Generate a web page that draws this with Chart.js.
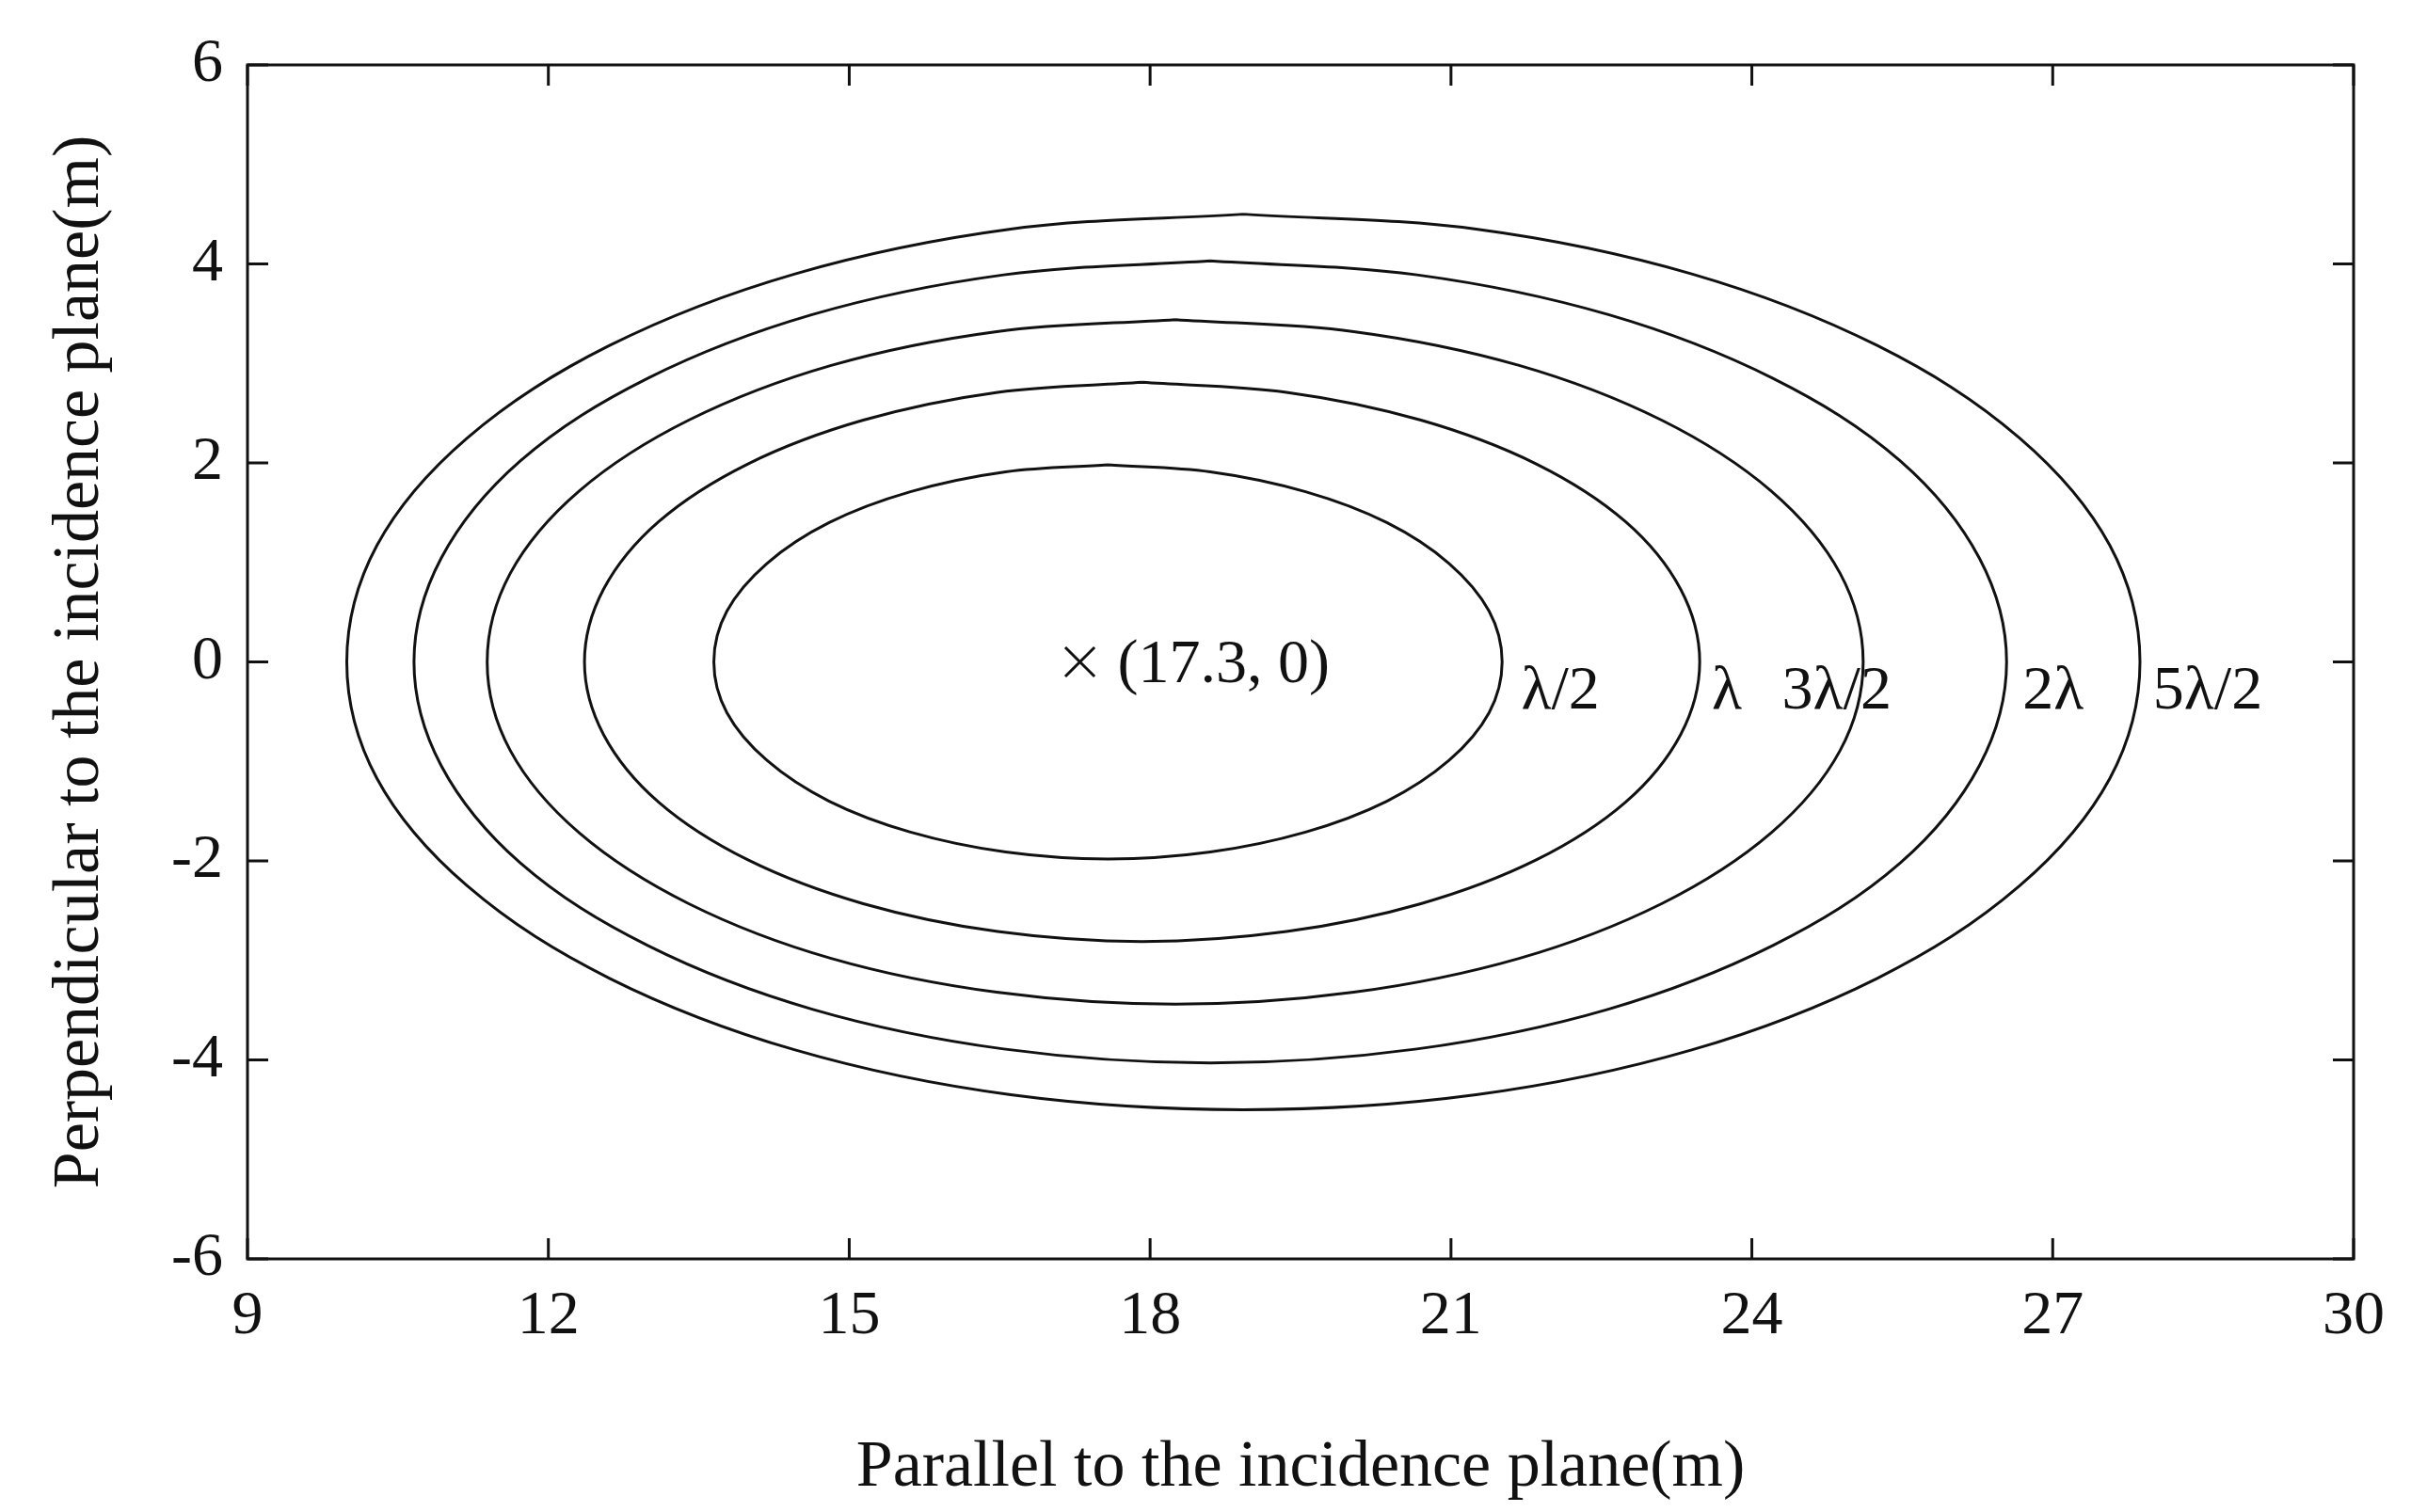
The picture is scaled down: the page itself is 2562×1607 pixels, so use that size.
<!DOCTYPE html>
<html lang="en">
<head>
<meta charset="UTF-8">
<title>Contours</title>
<script src="https://cdn.jsdelivr.net/npm/chart.js"></script>
<style>
  html, body { margin: 0; padding: 0; background: #fff; }
  #wrap { width: 2562px; height: 1607px; }
</style>
</head>
<body>
<div id="wrap"><canvas id="contourChart"></canvas></div>
<script>
// contour points (upper half, right to left); lower half mirrored
var halfHalf = [[21.51,0],[21.38,0.51],[20.98,0.99],[20.36,1.40],[19.55,1.71],[18.60,1.91],[17.58,1.98],[16.56,1.91],[15.61,1.71],[14.80,1.40],[14.18,0.99],[13.78,0.51],[13.65,0]];
var halfOne = [[23.48,0],[23.29,0.73],[22.74,1.41],[21.85,1.99],[20.70,2.43],[19.36,2.71],[17.92,2.81],[16.48,2.71],[15.14,2.43],[13.99,1.99],[13.10,1.41],[12.55,0.73],[12.36,0]];
var halfThreeHalves = [[25.11,0],[24.88,0.89],[24.19,1.72],[23.10,2.43],[21.68,2.98],[20.03,3.32],[18.25,3.44],[16.47,3.32],[14.82,2.98],[13.40,2.43],[12.31,1.72],[11.62,0.89],[11.39,0]];
var halfTwo = [[26.54,0],[26.27,1.04],[25.48,2.02],[24.21,2.85],[22.57,3.49],[20.66,3.89],[18.60,4.03],[16.54,3.89],[14.63,3.49],[12.99,2.85],[11.72,2.02],[10.93,1.04],[10.66,0]];
var halfFiveHalves = [[27.87,0],[27.57,1.17],[26.67,2.25],[25.25,3.18],[23.40,3.90],[21.25,4.35],[18.93,4.50],[16.61,4.35],[14.46,3.90],[12.61,3.18],[11.19,2.25],[10.29,1.17],[9.99,0]];

var contourLabels = ['\u03bb/2', '\u03bb', '3\u03bb/2', '2\u03bb', '5\u03bb/2'];
var labelX = [21.7, 23.6, 24.3, 26.7, 28.0];
var labelY = [-0.3, -0.3, -0.3, -0.3, -0.3];
var focus = [17.3, 0];
var xTicks = [9, 12, 15, 18, 21, 24, 27, 30];
var yTicks = [-6, -4, -2, 0, 2, 4, 6];

// build a closed loop starting at the top point so the seam sits on a flat part
function closed(half) {
    var loop = half.map(function (p) { return { x: p[0], y: p[1] }; });
    for (var i = half.length - 2; i >= 1; i--) loop.push({ x: half[i][0], y: -half[i][1] });
    var top = 6;
    var pts = loop.slice(top).concat(loop.slice(0, top));
    pts.push(pts[0]);
    return pts;
}

var serif = '"Liberation Serif", "DejaVu Serif", serif';
var contours = [halfHalf, halfOne, halfThreeHalves, halfTwo, halfFiveHalves];
var datasets = contours.map(function (h, i) {
    return {
        label: contourLabels[i],
        data: closed(h),
        showLine: true,
        borderColor: '#111',
        borderWidth: 3,
        pointRadius: 0,
        tension: 0.35,
        fill: false
    };
});
datasets.push({
    label: 'focus',
    data: [{ x: focus[0], y: focus[1] }],
    pointStyle: 'crossRot',
    pointRadius: 22,
    borderColor: '#111',
    borderWidth: 3,
    showLine: false
});

var textPlugin = {
    id: 'texts',
    afterDraw: function (chart) {
        var c = chart.ctx, xs = chart.scales.x, ys = chart.scales.y, a = chart.chartArea;
        c.save();
        c.fillStyle = '#111';
        c.font = '66px ' + serif;
        c.textBaseline = 'middle';
        c.textAlign = 'left';
        c.fillText('(17.3, 0)', xs.getPixelForValue(17.3) + 40, ys.getPixelForValue(0) + 4);
        contourLabels.forEach(function (t, i) {
            c.fillText(t, xs.getPixelForValue(labelX[i]), ys.getPixelForValue(labelY[i]));
        });
        // frame and inward ticks
        c.strokeStyle = '#111';
        c.lineWidth = 3;
        c.strokeRect(a.left, a.top, a.right - a.left, a.bottom - a.top);
        c.beginPath();
        xTicks.forEach(function (v) {
            var px = xs.getPixelForValue(v);
            c.moveTo(px, a.bottom); c.lineTo(px, a.bottom - 22);
            c.moveTo(px, a.top); c.lineTo(px, a.top + 22);
        });
        yTicks.forEach(function (v) {
            var py = ys.getPixelForValue(v);
            c.moveTo(a.left, py); c.lineTo(a.left + 22, py);
            c.moveTo(a.right, py); c.lineTo(a.right - 22, py);
        });
        c.stroke();
        c.restore();
    }
};

new Chart(document.getElementById('contourChart'), {
    type: 'scatter',
    data: { datasets: datasets },
    options: {
        responsive: true,
        maintainAspectRatio: false,
        animation: false,
        layout: { padding: { top: 69, right: 61, left: 40 } },
        plugins: { legend: { display: false }, tooltip: { enabled: false } },
        scales: {
            x: {
                min: 9, max: 30,
                afterBuildTicks: function (s) { s.ticks = xTicks.map(function (v) { return { value: v }; }); },
                afterFit: function (s) { s.height = 269; },
                grid: { display: false },
                border: { display: false },
                ticks: { color: '#111', font: { family: serif, size: 66 }, padding: 14, maxRotation: 0 },
                title: { display: true, text: 'Parallel to the incidence plane(m)', color: '#111', font: { family: serif, size: 70 }, padding: { top: 0 } }
            },
            y: {
                min: -6, max: 6,
                afterBuildTicks: function (s) { s.ticks = yTicks.map(function (v) { return { value: v }; }); },
                afterFit: function (s) { s.width = 223; },
                grid: { display: false },
                border: { display: false },
                ticks: { color: '#111', font: { family: serif, size: 66 }, padding: 18 },
                title: { display: true, text: 'Perpendicular to the incidence plane(m)', color: '#111', font: { family: serif, size: 70 }, padding: { bottom: 6 } }
            }
        }
    },
    plugins: [textPlugin]
});
</script>
</body>
</html>
